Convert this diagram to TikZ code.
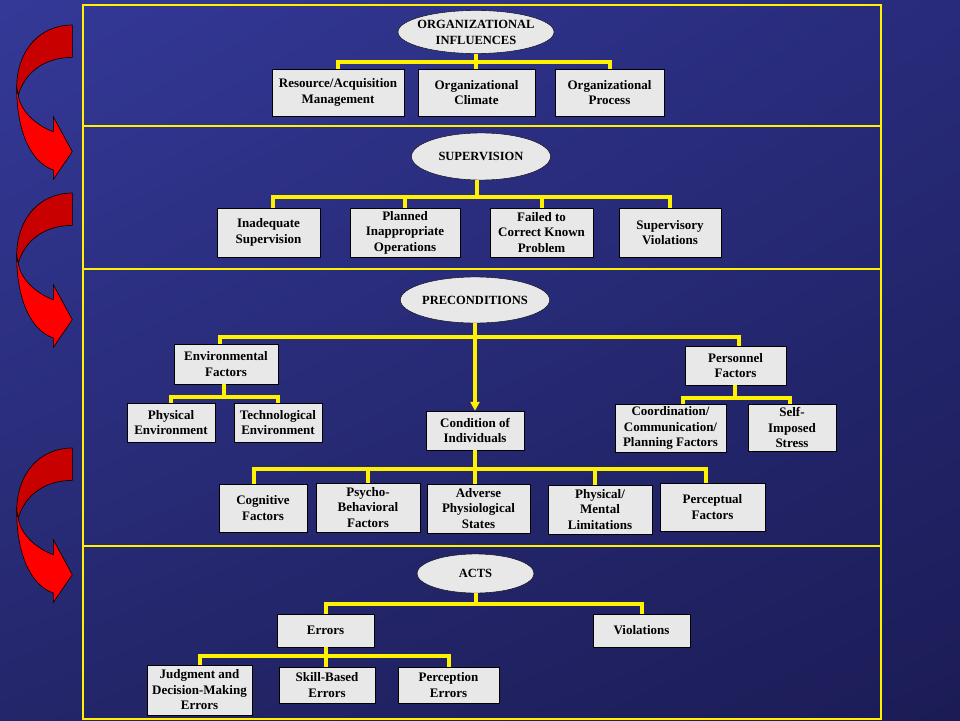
\documentclass[tikz,border=0pt]{standalone}
\usepackage{fontspec}
\setmainfont{Liberation Serif}
\usepackage{xcolor}
\usepackage{tikz}
\usetikzlibrary{shapes.geometric}
\usetikzlibrary{arrows.meta}
\usetikzlibrary{shadings}

\definecolor{bgul}{RGB}{52,57,152}
\definecolor{bgur}{RGB}{40,43,122}
\definecolor{bgll}{RGB}{36,38,106}
\definecolor{bglr}{RGB}{27,28,86}
\definecolor{boxgray}{RGB}{232,232,232}
\definecolor{backred}{RGB}{200,0,0}

\begin{document}
\begin{tikzpicture}[x=1pt,y=-1pt,
        tier/.style={ellipse, draw=black, fill=boxgray, inner sep=0pt, align=center,
            font=\fontsize{12.5}{16}\selectfont\bfseries},
        factor/.style={rectangle, draw=black, fill=boxgray, inner sep=0pt, align=center,
            font=\fontsize{13}{15.5}\selectfont\bfseries},
        link/.style={draw=yellow, line width=4pt},
        panel/.style={draw=yellow, line width=2pt}]

        \useasboundingbox (0,0) rectangle (960,720);
        \shade[upper left=bgul, upper right=bgur, lower left=bgll, lower right=bglr]
            (0,0) rectangle (960,720);

        % panels
        \draw[panel] (83,5) rectangle (881,719);
        \foreach \y in {126,269,546}
            \draw[panel] (83,\y) -- (881,\y);

        % red arrows on the left
        \foreach \dy in {0,168,423} {
            \begin{scope}[shift={(0,\dy)}]
                \filldraw[fill=backred, draw=black, line width=0.6pt]
                    (72.3,25) .. controls (40,25) and (16.7,50) .. (16.7,88)
                    -- (18.3,95) .. controls (25,72) and (45,57.4) .. (72.3,57.4) -- cycle;
                \filldraw[fill=red, draw=black, line width=0.6pt]
                    (16.7,88) .. controls (16.7,130) and (30,162) .. (53.3,170)
                    -- (53.3,179.4) -- (72.3,151.7) -- (53.3,116.7) -- (53.3,131.7)
                    .. controls (35,125) and (20,110) .. (18.3,95) -- cycle;
            \end{scope}
        }

        % organizational influences
        \node[tier, minimum width=156pt, minimum height=43pt, inner xsep=-4pt] (org) at (476,32) {ORGANIZATIONAL\\INFLUENCES};
        \node[factor, minimum width=132pt, minimum height=47pt] (res) at (338,92.5) {Resource/Acquisition\\Management};
        \node[factor, minimum width=117pt, minimum height=47pt] (clim) at (476.5,92.5) {Organizational\\Climate};
        \node[factor, minimum width=109pt, minimum height=47pt] (proc) at (609.5,92.5) {Organizational\\Process};

        \coordinate (orgbus) at (476,62);
        \draw[link] (org.south) -- (orgbus);
        \draw[link] (res.north) |- (orgbus) -| (proc.north);
        \draw[link] (orgbus) -- (orgbus |- clim.north);

        % supervision
        \node[tier, minimum width=139pt, minimum height=47pt] (sup) at (481,156.5) {SUPERVISION};
        \node[factor, minimum width=103pt, minimum height=49pt] (inad) at (268.5,232.5) {Inadequate\\Supervision};
        \node[factor, minimum width=110pt, minimum height=49pt] (plan) at (405,232.5) {Planned\\Inappropriate\\Operations};
        \node[factor, minimum width=103pt, minimum height=49pt] (fail) at (541.5,232.5) {Failed to\\Correct Known\\Problem};
        \node[factor, minimum width=102pt, minimum height=49pt] (supv) at (670,232.5) {Supervisory\\Violations};

        \coordinate (supbus) at (477,197);
        \draw[link] (sup.south -| supbus) -- (supbus);
        \draw[link] ([xshift=4.5pt]inad.north) |- (supbus) -| (supv.north);
        \draw[link] (plan.north) |- (supbus);
        \draw[link] (fail.north) |- (supbus);

        % preconditions
        \node[tier, minimum width=148pt, minimum height=46pt] (pre) at (475,300) {PRECONDITIONS};
        \node[factor, minimum width=104pt, minimum height=40pt] (env) at (226,364) {Environmental\\Factors};
        \node[factor, minimum width=101pt, minimum height=39pt] (pers) at (735.5,365.5) {Personnel\\Factors};
        \node[factor, minimum width=98pt, minimum height=39pt] (cond) at (475,430.5) {Condition of\\Individuals};
        \node[factor, minimum width=88pt, minimum height=39pt] (phys) at (171,422.5) {Physical\\Environment};
        \node[factor, minimum width=88pt, minimum height=39pt] (tech) at (278,422.5) {Technological\\Environment};
        \node[factor, minimum width=111pt, minimum height=48pt] (coord) at (670.5,428) {Coordination/\\Communication/\\Planning Factors};
        \node[factor, minimum width=88pt, minimum height=47pt] (self) at (792,427.5) {Self-\\Imposed\\Stress};

        \node[factor, minimum width=88pt, minimum height=48pt] (cog) at (263,508) {Cognitive\\Factors};
        \node[factor, minimum width=104pt, minimum height=49pt] (psy) at (368,507.5) {Psycho-\\Behavioral\\Factors};
        \node[factor, minimum width=103pt, minimum height=49pt] (adv) at (478.5,508.5) {Adverse\\Physiological\\States};
        \node[factor, minimum width=104pt, minimum height=49pt] (pml) at (600,509.5) {Physical/\\Mental\\Limitations};
        \node[factor, minimum width=105pt, minimum height=48pt] (perc) at (712.5,507) {Perceptual\\Factors};

        \coordinate (prebus) at (475,337);
        \draw[link] (pre.south) -- (prebus);
        \draw[link] ([xshift=-6pt]env.north) |- (prebus) -| ([xshift=3.5pt]pers.north);
        \draw[link, line width=3.5pt, -{Triangle[width=9pt,length=9pt]}] (prebus) -- (cond.north);

        \coordinate (envbus) at (224,397);
        \draw[link] (env.south -| envbus) -- (envbus);
        \draw[link] (phys.north) |- (envbus) -| (tech.north);

        \coordinate (persbus) at (735,398);
        \draw[link] (pers.south -| persbus) -- (persbus);
        \draw[link] ([xshift=12.5pt]coord.north) |- (persbus) -| ([xshift=-2pt]self.north);

        \coordinate (condbus) at (475,469);
        \draw[link] (cond.south) -- (condbus);
        \draw[link] ([xshift=-9pt]cog.north) |- (condbus) -| ([xshift=-6.5pt]perc.north);
        \draw[link] (psy.north) |- (condbus);
        \draw[link] ([xshift=-5pt]pml.north) |- (condbus);
        \draw[link] (condbus) -- (condbus |- adv.north);

        % acts
        \node[tier, minimum width=117pt, minimum height=39pt] (acts) at (475.5,573.5) {ACTS};
        \node[factor, minimum width=97pt, minimum height=33pt] (err) at (325.5,630.5) {Errors};
        \node[factor, minimum width=97pt, minimum height=33pt] (vio) at (641.5,630.5) {Violations};
        \node[factor, minimum width=105pt, minimum height=50pt] (judg) at (199.5,690) {Judgment and\\Decision-Making\\Errors};
        \node[factor, minimum width=96pt, minimum height=36pt] (skill) at (327,685) {Skill-Based\\Errors};
        \node[factor, minimum width=101pt, minimum height=36pt] (perr) at (448.5,685) {Perception\\Errors};

        \coordinate (actbus) at (476,604);
        \draw[link] (acts.south -| actbus) -- (actbus);
        \draw[link] (err.north) |- (actbus) -| (vio.north);

        \coordinate (errbus) at (325.5,656);
        \draw[link] (err.south) -- (errbus);
        \draw[link] (judg.north) |- (errbus) -| (perr.north);
        \draw[link] (errbus) -- (errbus |- skill.north);
\end{tikzpicture}
\end{document}
